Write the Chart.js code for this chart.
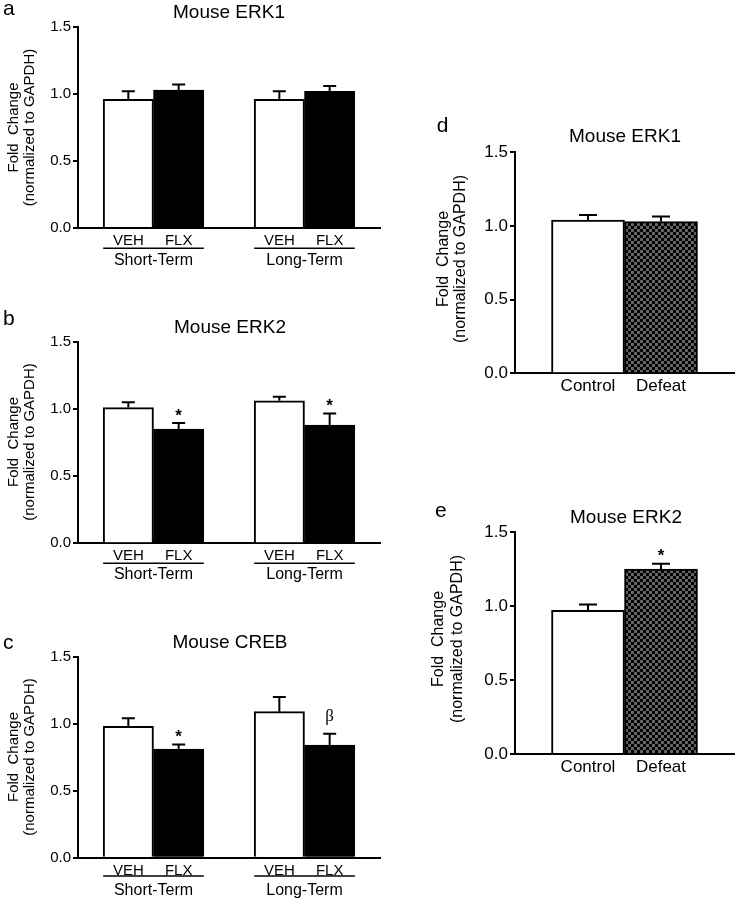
<!DOCTYPE html>
<html lang="en">
<head>
<meta charset="UTF-8">
<title>Mouse ERK1 / ERK2 / CREB</title>
<script src="https://cdn.jsdelivr.net/npm/chart.js"></script>
<style>
  body {
    margin: 0;
    background: #fff;
    width: 737px;
    height: 899px;
    overflow: hidden;
    position: relative;
  }
  canvas { position: absolute; }
</style>
</head>
<body>

<canvas id="chartA"></canvas>
<canvas id="chartB"></canvas>
<canvas id="chartC"></canvas>
<canvas id="chartD"></canvas>
<canvas id="chartE"></canvas>

<script>
  // fluoxetine panels (a-c): VEH / FLX, short- and long-term
  const fluoxGroups = ['Short-Term', 'Long-Term'];
  const fluoxTreatments = ['VEH', 'FLX'];

  const erk1Mean = [0.96, 1.03, 0.96, 1.02];
  const erk1Sem = [0.06, 0.04, 0.06, 0.04];
  const erk1Marks = ['', '', '', ''];

  const erk2Mean = [1.01, 0.85, 1.06, 0.88];
  const erk2Sem = [0.04, 0.045, 0.03, 0.085];
  const erk2Marks = ['', '*', '', '*'];

  const crebMean = [0.98, 0.81, 1.09, 0.84];
  const crebSem = [0.06, 0.035, 0.11, 0.085];
  const crebMarks = ['', '*', '', 'β'];

  // social defeat panels (d-e)
  const defeatGroups = ['Control', 'Defeat'];

  const defeatErk1Mean = [1.04, 1.03];
  const defeatErk1Sem = [0.035, 0.035];
  const defeatErk1Marks = ['', ''];

  const defeatErk2Mean = [0.97, 1.25];
  const defeatErk2Sem = [0.04, 0.035];
  const defeatErk2Marks = ['', '*'];

  const yTicks = [0, 0.5, 1.0, 1.5];
  const yTitle = ['Fold  Change', '(normalized to GAPDH)'];

  const FONT = '"Liberation Sans", Arial, Helvetica, sans-serif';

  function checker(canvas) {
    const c = document.createElement('canvas');
    c.width = 6; c.height = 6;
    const g = c.getContext('2d');
    g.fillStyle = '#000';
    g.fillRect(0, 0, 6, 6);
    g.fillStyle = '#646464';
    g.fillRect(0, 0, 3, 3);
    g.fillRect(3, 3, 3, 3);
    return canvas.getContext('2d').createPattern(c, 'repeat');
  }

  // fluox layout: '', VEH, FLX, '', VEH, FLX, ''
  function fluoxSeries(mean, sem, marks) {
    const labels = [''], data = [null], err = [null], mk = [''], fill = ['#fff'];
    const groups = [];
    fluoxGroups.forEach((g, gi) => {
      const start = labels.length;
      fluoxTreatments.forEach((t, ti) => {
        const k = gi * fluoxTreatments.length + ti;
        labels.push(t);
        data.push(mean[k]);
        err.push(sem[k]);
        mk.push(marks[k]);
        fill.push(ti === 0 ? '#fff' : '#000');
      });
      groups.push({ label: g, from: start, to: labels.length - 1 });
      labels.push('');
      data.push(null); err.push(null); mk.push(''); fill.push('#fff');
    });
    return { labels, data, err, mk, fill, groups };
  }

  function defeatSeries(mean, sem, marks, pattern) {
    const labels = [''], data = [null], err = [null], mk = [''], fill = ['#fff'];
    defeatGroups.forEach((g, i) => {
      labels.push(g);
      data.push(mean[i]);
      err.push(sem[i]);
      mk.push(marks[i]);
      fill.push(i === 0 ? '#fff' : pattern);
    });
    labels.push('');
    data.push(null); err.push(null); mk.push(''); fill.push('#fff');
    return { labels, data, err, mk, fill, groups: [] };
  }

  const deco = {
    id: 'deco',
    afterDatasetsDraw(chart, args, o) {
      const { ctx, scales: { y } } = chart;
      const meta = chart.getDatasetMeta(0);
      const vals = chart.data.datasets[0].data;
      ctx.save();
      ctx.strokeStyle = '#000';
      ctx.fillStyle = '#000';
      ctx.lineWidth = 2;
      meta.data.forEach((bar, i) => {
        if (vals[i] == null) return;
        const top = y.getPixelForValue(vals[i] + o.err[i]);
        ctx.beginPath();
        ctx.moveTo(bar.x, bar.y);
        ctx.lineTo(bar.x, top);
        ctx.moveTo(bar.x - o.cap / 2, top);
        ctx.lineTo(bar.x + o.cap / 2, top);
        ctx.stroke();
        const m = o.marks[i];
        if (m === '*') {
          ctx.font = 'bold 17px ' + FONT;
          ctx.textAlign = 'center';
          ctx.textBaseline = 'alphabetic';
          ctx.fillText(m, bar.x, top - 2.5);
        } else if (m) {
          ctx.font = '17px "Liberation Serif", "DejaVu Serif", serif';
          ctx.textAlign = 'center';
          ctx.textBaseline = 'alphabetic';
          ctx.fillText(m, bar.x, top - 13);
        }
      });
      ctx.restore();
    },
    afterDraw(chart, args, o) {
      const ctx = chart.ctx;
      const ox = o.box.left, oy = o.box.top;
      const meta = chart.getDatasetMeta(0);
      ctx.save();
      ctx.fillStyle = '#000';
      ctx.strokeStyle = '#000';
      ctx.textBaseline = 'alphabetic';

      ctx.font = '21px ' + FONT;
      ctx.textAlign = 'left';
      ctx.fillText(o.letter, o.letterAt[0] - ox, o.letterAt[1] - oy);

      ctx.font = '19px ' + FONT;
      ctx.textAlign = 'center';
      ctx.fillText(o.title, o.titleAt[0] - ox, o.titleAt[1] - oy);

      ctx.font = o.yTitleSize + 'px ' + FONT;
      yTitle.forEach((line, i) => {
        ctx.save();
        ctx.translate(o.yTitleX[i] - ox, o.yTitleY - oy);
        ctx.rotate(-Math.PI / 2);
        ctx.fillText(line, 0, 0);
        ctx.restore();
      });

      ctx.font = '16px ' + FONT;
      ctx.lineWidth = 1.5;
      o.groups.forEach(g => {
        const a = meta.data[g.from], b = meta.data[g.to];
        const x0 = a.x - a.width / 2, x1 = b.x + b.width / 2;
        ctx.beginPath();
        ctx.moveTo(x0, o.lineY - oy);
        ctx.lineTo(x1, o.lineY - oy);
        ctx.stroke();
        ctx.fillText(g.label, (x0 + x1) / 2, o.groupY - oy);
      });
      ctx.restore();
    }
  };

  function makePanel(id, p, series) {
    const cv = document.getElementById(id);
    cv.width = p.box.width;
    cv.height = p.box.height;
    cv.style.left = p.box.left + 'px';
    cv.style.top = p.box.top + 'px';
    const s = series(cv);
    const area = {
      left: p.area.left - p.box.left,
      top: p.area.top - p.box.top,
      right: p.area.right - p.box.left,
      bottom: p.area.bottom - p.box.top
    };
    new Chart(cv, {
      type: 'bar',
      data: {
        labels: s.labels,
        datasets: [{
          data: s.data,
          backgroundColor: s.fill,
          borderColor: '#000',
          borderWidth: 2,
          barPercentage: 1,
          categoryPercentage: 1
        }]
      },
      options: {
        responsive: false,
        animation: false,
        events: [],
        layout: {
          padding: { top: area.top, right: p.box.width - area.right, left: 0, bottom: 0 }
        },
        scales: {
          x: {
            type: 'category',
            offset: false,
            grid: { display: false, drawTicks: false },
            border: { color: '#000', width: 2 },
            ticks: {
              autoSkip: false, maxRotation: 0, minRotation: 0,
              color: '#000', padding: p.xPad,
              font: { family: FONT, size: p.xSize }
            },
            afterFit: sc => { sc.height = p.box.height - area.bottom; }
          },
          y: {
            min: 0,
            max: 1.5,
            afterBuildTicks: sc => { sc.ticks = yTicks.map(v => ({ value: v })); },
            ticks: {
              color: '#000', padding: 2,
              font: { family: FONT, size: p.ySize },
              callback: v => v.toFixed(1)
            },
            grid: { drawOnChartArea: false, drawTicks: true, tickLength: 5, color: '#000', lineWidth: 2 },
            border: { color: '#000', width: 2 },
            afterFit: sc => { sc.width = area.left; }
          }
        },
        plugins: {
          legend: { display: false },
          tooltip: { enabled: false },
          deco: {
            box: p.box,
            err: s.err,
            marks: s.mk,
            groups: s.groups,
            cap: p.cap,
            letter: p.letter,
            letterAt: p.letterAt,
            title: p.title,
            titleAt: p.titleAt,
            yTitleX: p.yTitleX,
            yTitleY: p.yTitleY,
            yTitleSize: p.yTitleSize,
            lineY: p.lineY,
            groupY: p.groupY
          }
        }
      },
      plugins: [deco]
    });
  }

  const left = { xSize: 15, ySize: 15, xPad: 4, cap: 13, yTitleSize: 15 };
  const right = { xSize: 17, ySize: 17, xPad: 3, cap: 18, yTitleSize: 16 };

  makePanel('chartA', Object.assign({}, left, {
    box: { left: 0, top: 0, width: 385, height: 280 },
    area: { left: 78, top: 27, right: 380, bottom: 228 },
    letter: 'a', letterAt: [3, 15],
    title: 'Mouse ERK1', titleAt: [229, 17.5],
    yTitleX: [18, 34], yTitleY: 127.5,
    lineY: 248.3, groupY: 265
  }), () => fluoxSeries(erk1Mean, erk1Sem, erk1Marks));

  makePanel('chartB', Object.assign({}, left, {
    box: { left: 0, top: 300, width: 385, height: 290 },
    area: { left: 78, top: 341.7, right: 380, bottom: 543.3 },
    letter: 'b', letterAt: [3, 325],
    title: 'Mouse ERK2', titleAt: [230, 333.3],
    yTitleX: [18, 34], yTitleY: 442,
    lineY: 563.3, groupY: 579.3
  }), () => fluoxSeries(erk2Mean, erk2Sem, erk2Marks));

  makePanel('chartC', Object.assign({}, left, {
    box: { left: 0, top: 600, width: 385, height: 299 },
    area: { left: 78, top: 656.7, right: 380, bottom: 857.7 },
    letter: 'c', letterAt: [3, 649.3],
    title: 'Mouse CREB', titleAt: [230, 648],
    yTitleX: [18, 34], yTitleY: 757,
    lineY: 876, groupY: 895
  }), () => fluoxSeries(crebMean, crebSem, crebMarks));

  makePanel('chartD', Object.assign({}, right, {
    box: { left: 400, top: 100, width: 337, height: 320 },
    area: { left: 515, top: 152.3, right: 735, bottom: 373.3 },
    letter: 'd', letterAt: [436.7, 131.7],
    title: 'Mouse ERK1', titleAt: [625, 141.7],
    yTitleX: [448, 465], yTitleY: 259,
    lineY: 0, groupY: 0
  }), cv => defeatSeries(defeatErk1Mean, defeatErk1Sem, defeatErk1Marks, checker(cv)));

  makePanel('chartE', Object.assign({}, right, {
    box: { left: 400, top: 480, width: 337, height: 320 },
    area: { left: 515, top: 532, right: 735, bottom: 754 },
    letter: 'e', letterAt: [435, 517],
    title: 'Mouse ERK2', titleAt: [626, 523.3],
    yTitleX: [443, 462], yTitleY: 639,
    lineY: 0, groupY: 0
  }), cv => defeatSeries(defeatErk2Mean, defeatErk2Sem, defeatErk2Marks, checker(cv)));
</script>
</body>
</html>
